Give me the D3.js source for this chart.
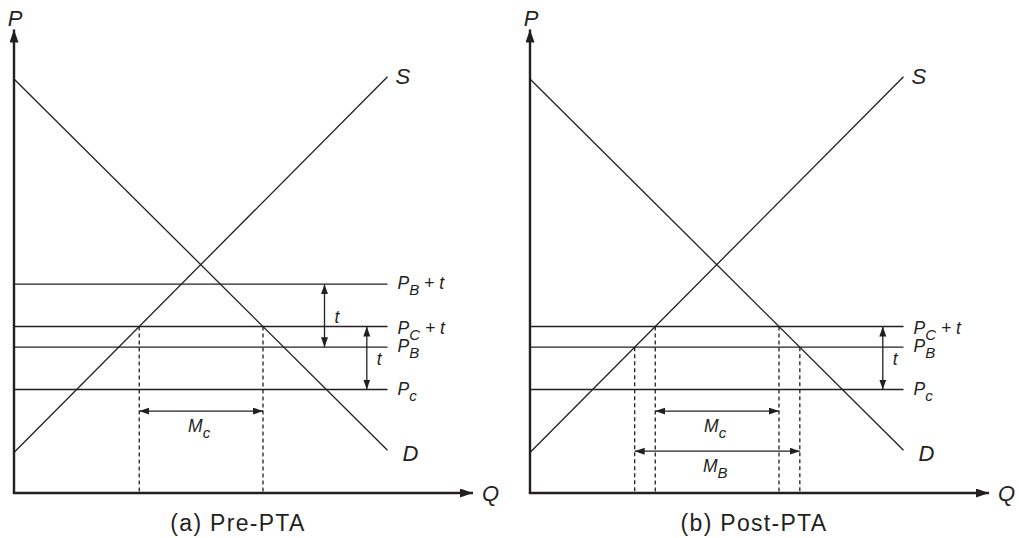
<!DOCTYPE html>
<html>
<head>
<meta charset="utf-8">
<script src="https://cdn.jsdelivr.net/npm/d3@7"></script>
<style>
  body { margin: 0; background: #fff; }
  svg text { font-family: "Liberation Sans", Arial, Helvetica, sans-serif; fill: #231f20; }
  .it { font-style: italic; }
</style>
</head>
<body>
<div id="chart"></div>
<script>
// supply and demand lines (Q, P) in chart units
const supplyQ = [0, 83];
const supplyP = [9, 92.5];
const demandQ = [0, 83];
const demandP = [92, 9.5];

// price levels
const pC = 23;
const pB = 32.4;
const tariff = 14;

// horizontal price lines per panel and their labels [main, subscript, suffix]
const levelsPre = [pB + tariff, pC + tariff, pB, pC];
const labelsPre = [["P", "B", " + t"], ["P", "C", " + t"], ["P", "B", ""], ["P", "c", ""]];
const levelsPost = [pC + tariff, pB, pC];
const labelsPost = [["P", "C", " + t"], ["P", "B", ""], ["P", "c", ""]];

const captions = ["(a) Pre-PTA", "(b) Post-PTA"];

const ink = "#231f20";
const W = 1019, H = 538;

const svg = d3.select("#chart").append("svg")
    .attr("width", W)
    .attr("height", H);

// arrow markers
const defs = svg.append("defs");
defs.append("marker")
    .attr("id", "head")
    .attr("markerUnits", "userSpaceOnUse")
    .attr("markerWidth", 11).attr("markerHeight", 8)
    .attr("refX", 10).attr("refY", 3.5)
    .attr("orient", "auto-start-reverse")
    .append("path").attr("d", "M0,0 L10,3.5 L0,7 Z").attr("fill", ink);
defs.append("marker")
    .attr("id", "axisHead")
    .attr("markerUnits", "userSpaceOnUse")
    .attr("markerWidth", 14).attr("markerHeight", 10)
    .attr("refX", 13).attr("refY", 4.5)
    .attr("orient", "auto")
    .append("path").attr("d", "M0,0 L13,4.5 L0,9 Z").attr("fill", ink);

function qSupply(p) {
    return supplyQ[0] + (p - supplyP[0]) * (supplyQ[1] - supplyQ[0]) / (supplyP[1] - supplyP[0]);
}
function qDemand(p) {
    return demandQ[0] + (p - demandP[0]) * (demandQ[1] - demandQ[0]) / (demandP[1] - demandP[0]);
}

function subLabel(g, x, y, parts, size, subSize, anchor) {
    let txt = g.append("text")
        .attr("class", "it")
        .attr("x", x).attr("y", y)
        .attr("font-size", size)
        .attr("text-anchor", anchor || "start");
    txt.append("tspan").text(parts[0]);
    txt.append("tspan").attr("font-size", subSize).attr("dy", 6).text(parts[1]);
    if (parts[2]) {
        txt.append("tspan").attr("dy", -6).attr("xml:space", "preserve").text(parts[2]);
    }
    return txt;
}

function drawPanel(ox, levels, labels, tArrows, imports, dashLevels, caption) {
    let g = svg.append("g");

    let x = d3.scaleLinear().domain([0, 100]).range([ox, ox + 450]);
    let y = d3.scaleLinear().domain([0, 100]).range([493, 43]);

    // axes
    g.append("line")
        .attr("x1", x(0)).attr("y1", y(0))
        .attr("x2", x(0)).attr("y2", y(103))
        .attr("stroke", ink).attr("stroke-width", 2.4)
        .attr("marker-end", "url(#axisHead)");
    g.append("line")
        .attr("x1", x(0) - 1.2).attr("y1", y(0))
        .attr("x2", x(102)).attr("y2", y(0))
        .attr("stroke", ink).attr("stroke-width", 2.4)
        .attr("marker-end", "url(#axisHead)");
    g.append("text").attr("class", "it").attr("font-size", 22)
        .attr("x", x(0) + 1).attr("y", 26).attr("text-anchor", "middle").text("P");
    g.append("text").attr("class", "it").attr("font-size", 22)
        .attr("x", x(102) + 9).attr("y", y(0) + 8).text("Q");

    // supply and demand
    let line = d3.line().x(d => x(d[0])).y(d => y(d[1]));
    g.append("path")
        .attr("d", line(d3.zip(supplyQ, supplyP)))
        .attr("fill", "none").attr("stroke", ink).attr("stroke-width", 1.3);
    g.append("path")
        .attr("d", line(d3.zip(demandQ, demandP)))
        .attr("fill", "none").attr("stroke", ink).attr("stroke-width", 1.3);
    g.append("text").attr("class", "it").attr("font-size", 22)
        .attr("x", x(supplyQ[1]) + 8).attr("y", y(supplyP[1]) + 7).text("S");
    g.append("text").attr("class", "it").attr("font-size", 22)
        .attr("x", x(demandQ[1]) + 15).attr("y", y(demandP[1]) + 11).text("D");

    // price lines
    levels.forEach((p, i) => {
        g.append("line")
            .attr("x1", x(0)).attr("x2", x(83))
            .attr("y1", y(p)).attr("y2", y(p))
            .attr("stroke", ink).attr("stroke-width", 1.3);
        let lab = labels[i];
        let shift = lab[1] === "C" && lab[2] ? 7 : 5;
        subLabel(g, x(83) + 10, y(p) + shift, lab, 17.5, 15);
    });

    // dashed verticals
    dashLevels.forEach(p => {
        [qSupply(p), qDemand(p)].forEach(q => {
            g.append("line")
                .attr("x1", x(q)).attr("x2", x(q))
                .attr("y1", y(p)).attr("y2", y(0))
                .attr("stroke", ink).attr("stroke-width", 1.3)
                .attr("stroke-dasharray", "4,3");
        });
    });

    // tariff arrows
    tArrows.forEach(a => {
        g.append("line")
            .attr("x1", x(a.q)).attr("x2", x(a.q))
            .attr("y1", y(a.from)).attr("y2", y(a.to))
            .attr("stroke", ink).attr("stroke-width", 1.3)
            .attr("marker-start", "url(#head)")
            .attr("marker-end", "url(#head)");
        g.append("text").attr("class", "it").attr("font-size", 17.5)
            .attr("x", x(a.q) + 10)
            .attr("y", (y(a.from) + y(a.to)) / 2 + 7)
            .text("t");
    });

    // import arrows
    imports.forEach(m => {
        let q0 = qSupply(m.level), q1 = qDemand(m.level);
        g.append("line")
            .attr("x1", x(q0)).attr("x2", x(q1))
            .attr("y1", y(m.p)).attr("y2", y(m.p))
            .attr("stroke", ink).attr("stroke-width", 1.3)
            .attr("marker-start", "url(#head)")
            .attr("marker-end", "url(#head)");
        subLabel(g, (x(q0) + x(q1)) / 2 - 2, y(m.p) + 21, m.label, 17.5, 15, "middle");
    });

    g.append("text")
        .attr("font-size", 23)
        .attr("letter-spacing", 1.3)
        .attr("x", x(50) - 1).attr("y", 531)
        .attr("text-anchor", "middle")
        .text(caption);
}

drawPanel(14, levelsPre, labelsPre,
    [{q: 69, from: pB + tariff, to: pB}, {q: 78.4, from: pC + tariff, to: pC}],
    [{level: pC + tariff, p: 18.2, label: ["M", "c", ""]}],
    [pC + tariff], captions[0]);

drawPanel(530, levelsPost, labelsPost,
    [{q: 78.4, from: pC + tariff, to: pC}],
    [{level: pC + tariff, p: 18.2, label: ["M", "c", ""]},
     {level: pB, p: 9.3, label: ["M", "B", ""]}],
    [pC + tariff, pB], captions[1]);
</script>
</body>
</html>
